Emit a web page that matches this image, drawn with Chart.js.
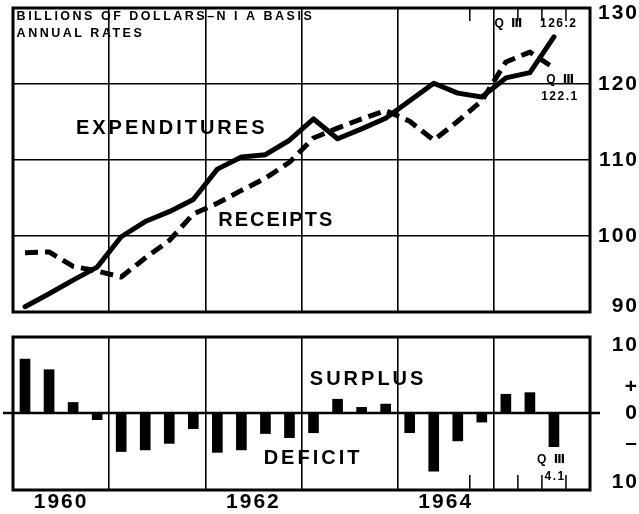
<!DOCTYPE html>
<html>
<head>
<meta charset="utf-8">
<script src="https://cdn.jsdelivr.net/npm/chart.js@4/dist/chart.umd.min.js"></script>
<style>
  body { margin: 0; background: #fff; }
  #wrap { position: relative; width: 639px; height: 514px; overflow: hidden; background: #fff; }
  #chart-top { position: absolute; left: 0; top: -10px; }
  #chart-bottom { position: absolute; left: 0; top: 320px; }
</style>
</head>
<body>
<div id="wrap">
  <canvas id="chart-top" width="639" height="332"></canvas>
  <canvas id="chart-bottom" width="639" height="194"></canvas>
</div>
<script>
// quarterly, 1960 Q1 .. 1965 Q4
var quarters = [
  '1960 Q1', '1960 Q2', '1960 Q3', '1960 Q4',
  '1961 Q1', '1961 Q2', '1961 Q3', '1961 Q4',
  '1962 Q1', '1962 Q2', '1962 Q3', '1962 Q4',
  '1963 Q1', '1963 Q2', '1963 Q3', '1963 Q4',
  '1964 Q1', '1964 Q2', '1964 Q3', '1964 Q4',
  '1965 Q1', '1965 Q2', '1965 Q3', '1965 Q4'
];
var yearLabels = ['1960', '1962', '1964'];

// billions of dollars, NIA basis, annual rates
var expenditures = [90.7, 92.4, 94.2, 95.9, 99.9, 101.9, 103.2, 104.8, 108.8, 110.4, 110.7, 112.6,
                    115.4, 112.8, 114.1, 115.5, 117.8, 120.1, 118.8, 118.3, 120.8, 121.5, 126.2, null];
var receipts     = [97.8, 97.9, 96.0, 95.4, 94.6, 97.1, 99.4, 102.9, 104.3, 106.0, 107.6, 109.7,
                    112.9, 114.2, 115.4, 116.5, 115.1, 112.6, 115.1, 117.8, 122.9, 124.2, 122.1, null];
// surplus (+) or deficit (-)
var surplus      = [6.6, 5.3, 1.3, -0.8, -4.7, -4.5, -3.7, -1.9, -4.8, -4.5, -2.5, -3.0,
                    -2.4, 1.7, 0.7, 1.1, -2.4, -7.1, -3.4, -1.1, 2.3, 2.5, -4.1, null];

var topTickValues = [90.7, 100, 110, 120, 129.3];
var topTickLabels = ['90', '100', '110', '120', '130'];
var bottomTickValues = [8.3, 3.2, 0, -3.7, -8.5];
var bottomTickLabels = ['10', '+', '0', '\u2013', '10'];
var quarterMarks = [19, 21, 22, 23];

var FONT = "'Liberation Sans', 'DejaVu Sans', sans-serif";
var BLACK = '#000';
var NONE = 'rgba(0,0,0,0)';

function xAxis(showLabels) {
  return {
    type: 'category',
    offset: true,
    grid: {
      offset: true,
      drawTicks: false,
      lineWidth: 1.6,
      color: function (c) { return (c.index % 4 === 0) ? BLACK : NONE; }
    },
    border: { display: false },
    ticks: {
      display: showLabels,
      autoSkip: false,
      maxRotation: 0,
      padding: 0,
      labelOffset: 12,
      color: BLACK,
      font: { family: FONT, weight: 'bold', size: 21 },
      callback: function (v, i) {
        var q = quarters[i];
        var yr = q.slice(0, 4);
        return (q.slice(-2) === 'Q2' && yearLabels.indexOf(yr) >= 0) ? yr : '';
      }
    },
    afterFit: function (s) {
      s.height = showLabels ? 24 : 0;
      s.paddingLeft = 0; s.paddingRight = 0;
    }
  };
}

function fixY(s) {
  s.width = 49;
  s.paddingTop = 0; s.paddingBottom = 0;
}

// thick frame + quarter marks + zero line
var framePlugin = {
  id: 'frame',
  beforeDatasetsDraw: function (chart, args, opts) {
    var ctx = chart.ctx, a = chart.chartArea, x = chart.scales.x, y = chart.scales.y;
    ctx.save();
    ctx.strokeStyle = BLACK;
    if (opts.zero) {
      var zy = y.getPixelForValue(0);
      ctx.lineWidth = 2.5;
      ctx.beginPath();
      ctx.moveTo(a.left - 10, zy);
      ctx.lineTo(a.right + 10, zy);
      ctx.stroke();
    }
    ctx.lineWidth = 1.5;
    quarterMarks.forEach(function (k) {
      var px = (x.getPixelForValue(k - 1) + x.getPixelForValue(k)) / 2;
      ctx.beginPath();
      if (opts.marksTop) { ctx.moveTo(px, a.top); ctx.lineTo(px, a.top + 13); }
      else { ctx.moveTo(px, a.bottom); ctx.lineTo(px, a.bottom - 15); }
      ctx.stroke();
    });
    ctx.lineWidth = 3;
    ctx.strokeRect(a.left, a.top, a.right - a.left, a.bottom - a.top);
    ctx.restore();
  }
};

// text notes placed in data coordinates
var notesPlugin = {
  id: 'notes',
  beforeDraw: function (chart) { chart.ctx.letterSpacing = '2px'; },
  afterDraw: function (chart, args, opts) {
    var ctx = chart.ctx, x = chart.scales.x, y = chart.scales.y;
    var span = x.getPixelForValue(1) - x.getPixelForValue(0);
    opts.items.forEach(function (n) {
      ctx.save();
      ctx.fillStyle = BLACK;
      ctx.font = 'bold ' + n.size + 'px ' + FONT;
      ctx.letterSpacing = n.spacing + 'px';
      ctx.textAlign = n.align || 'center';
      ctx.textBaseline = 'middle';
      var px = x.getPixelForValue(0) + n.x * span;
      ctx.fillText(n.text, px, y.getPixelForValue(n.y));
      ctx.restore();
    });
  }
};

new Chart(document.getElementById('chart-top').getContext('2d'), {
  type: 'line',
  data: {
    labels: quarters,
    datasets: [{
      label: 'Expenditures',
      data: expenditures,
      borderColor: BLACK,
      borderWidth: 5,
      pointRadius: 0,
      tension: 0,
      borderJoinStyle: 'round',
      borderCapStyle: 'round'
    }, {
      label: 'Receipts',
      data: receipts,
      borderColor: BLACK,
      borderWidth: 5,
      borderDash: [13, 7],
      pointRadius: 0,
      tension: 0,
      borderJoinStyle: 'round'
    }]
  },
  options: {
    responsive: false,
    animation: false,
    layout: { padding: { top: 18, left: 13, right: 0, bottom: 10 } },
    plugins: {
      legend: { display: false },
      tooltip: { enabled: false },
      frame: { marksTop: true },
      notes: {
        items: [
          { text: 'BILLIONS OF DOLLARS\u2013N I A BASIS', x: -0.35, y: 128.9, size: 12.5, spacing: 2.5, align: 'left' },
          { text: 'ANNUAL RATES', x: -0.35, y: 126.7, size: 12.5, spacing: 2.5, align: 'left' },
          { text: 'EXPENDITURES', x: 6.1, y: 114.2, size: 20, spacing: 3 },
          { text: 'RECEIPTS', x: 10.45, y: 102.0, size: 20, spacing: 2 },
          { text: 'Q \u2162', x: 20.15, y: 127.9, size: 12, spacing: 2 },
          { text: '126.2', x: 22.2, y: 127.9, size: 12, spacing: 1.5 },
          { text: 'Q \u2162', x: 22.3, y: 120.6, size: 12, spacing: 2 },
          { text: '122.1', x: 22.25, y: 118.3, size: 12, spacing: 1.5 }
        ]
      }
    },
    scales: {
      x: xAxis(false),
      y: {
        position: 'right',
        min: 90,
        max: 130,
        afterBuildTicks: function (s) { s.ticks = topTickValues.map(function (v) { return { value: v }; }); },
        grid: {
          drawTicks: false,
          lineWidth: 1.6,
          color: function (c) { return (c.index > 0 && c.index < topTickValues.length - 1) ? BLACK : NONE; }
        },
        border: { display: false },
        ticks: {
          padding: 6,
          crossAlign: 'far',
          color: BLACK,
          font: { family: FONT, weight: 'bold', size: 21 },
          callback: function (v, i) { return topTickLabels[i]; }
        },
        afterFit: fixY
      }
    }
  },
  plugins: [framePlugin, notesPlugin]
});

new Chart(document.getElementById('chart-bottom').getContext('2d'), {
  type: 'bar',
  data: {
    labels: quarters,
    datasets: [{
      label: 'Surplus or deficit',
      data: surplus,
      backgroundColor: BLACK,
      barThickness: 10
    }]
  },
  options: {
    responsive: false,
    animation: false,
    layout: { padding: { top: 17, left: 13, right: 0, bottom: 0 } },
    plugins: {
      legend: { display: false },
      tooltip: { enabled: false },
      frame: { zero: true, marksTop: false },
      notes: {
        items: [
          { text: 'SURPLUS', x: 14.27, y: 4.1, size: 20, spacing: 3 },
          { text: 'DEFICIT', x: 11.98, y: -5.5, size: 20, spacing: 3 },
          { text: 'Q \u2162', x: 21.92, y: -5.7, size: 12, spacing: 2 },
          { text: '4.1', x: 22.05, y: -7.8, size: 12, spacing: 1.5 }
        ]
      }
    },
    scales: {
      x: xAxis(true),
      y: {
        position: 'right',
        min: -9.4,
        max: 9.3,
        afterBuildTicks: function (s) { s.ticks = bottomTickValues.map(function (v) { return { value: v }; }); },
        grid: { display: false, drawTicks: false },
        border: { display: false },
        ticks: {
          padding: 16,
          crossAlign: 'far',
          color: BLACK,
          font: { family: FONT, weight: 'bold', size: 21 },
          callback: function (v, i) { return bottomTickLabels[i]; }
        },
        afterFit: fixY
      }
    }
  },
  plugins: [framePlugin, notesPlugin]
});
</script>
</body>
</html>
